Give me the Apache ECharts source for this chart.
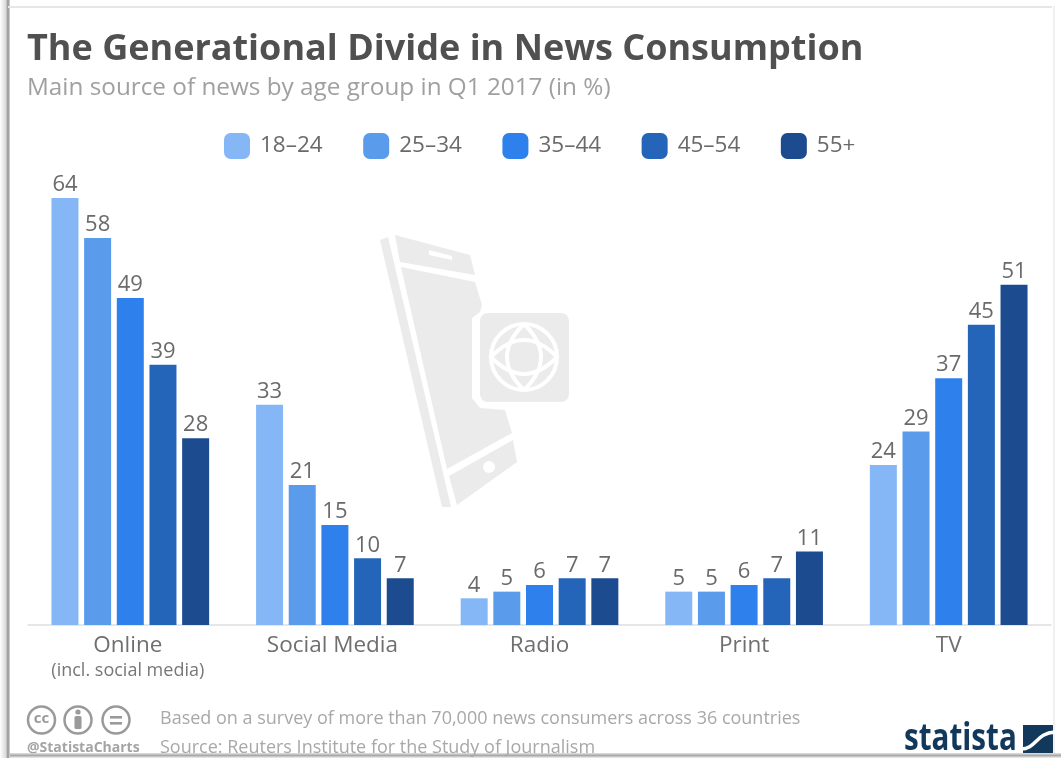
<!DOCTYPE html>
<html><head><meta charset="utf-8">
<style>html,body{margin:0;padding:0;background:#fff}#c{width:1061px;height:758px;filter:blur(0.5px)}</style>
<script src="https://cdn.jsdelivr.net/npm/echarts@6/dist/echarts.min.js"></script>
</head><body><div id="c"></div>
<script>
const categories = ['Online\n{sub|(incl. social media)}', 'Social Media', 'Radio', 'Print', 'TV'];
const ages = ['18–24', '25–34', '35–44', '45–54', '55+'];
const colors = ['#85b7f6', '#5a9bec', '#2e81ec', '#2565b9', '#1c4b8f'];
const v1824 = [64, 33, 4, 5, 24];
const v2534 = [58, 21, 5, 5, 29];
const v3544 = [49, 15, 6, 6, 37];
const v4554 = [39, 10, 7, 7, 45];
const v55 = [28, 7, 7, 11, 51];
const values = [v1824, v2534, v3544, v4554, v55];
const titleText = 'The Generational Divide in News Consumption';
const subtitleText = 'Main source of news by age group in Q1 2017 (in %)';
const note1 = 'Based on a survey of more than 70,000 news consumers across 36 countries';
const note2 = 'Source: Reuters Institute for the Study of Journalism';

const F = '"Open Sans"';
const wm = '#ebebeb';
const gray = '#9a9a9a';
const navy = '#12395b';
const txt = (x, y, text, size, fill, extra) => ({type:'text', x, y, silent:true, style:Object.assign({text, fontFamily:F, fontSize:size, fill, textVerticalAlign:'middle'}, extra||{})});
const poly = (points, fill) => ({type:'polygon', silent:true, shape:{points}, style:{fill}});
const ring = (cx, cy, r, lw, stroke) => ({type:'circle', silent:true, shape:{cx, cy, r}, style:{fill:'none', stroke, lineWidth:lw}});
const rr = (x,y,width,height,r,fill) => ({type:'rect', silent:true, shape:{x,y,width,height,r}, style:{fill}});
const bez = (x1,y1,cpx1,cpy1,x2,y2,stroke,lineWidth) => ({type:'bezierCurve', silent:true, shape:{x1,y1,cpx1,cpy1,x2,y2}, style:{fill:'none', stroke, lineWidth}});

const graphics = [
  // watermark: phone
  poly([[380,240],[388,237],[451,507],[442,507]], wm),
  poly([[395,235],[470,255],[475,275],[400,262]], wm),
  poly([[401,267],[475,282],[482,305],[480,312],[472,318],[472,398],[480,408],[505,410],[512,433],[447,469]], wm),
  poly([[449,476],[513,440],[517,462],[457,505]], wm),
  poly([[429,250],[452,256],[452,260],[429,255]], '#fff'),
  {type:'circle', silent:true, shape:{cx:489,cy:467,r:6}, style:{fill:'#fff'}},
  rr(480,313,89,89,8,wm),
  ring(524,357,33,4,'#fff'),
  bez(524,324,558,357,524,390,'#fff',4),
  bez(524,324,490,357,524,390,'#fff',4),
  bez(491,357,524,323,557,357,'#fff',4),
  bez(491,357,524,391,557,357,'#fff',4),
  // page frame
  {type:'rect', silent:true, shape:{x:0,y:0,width:10,height:758}, style:{fill:{type:'linear',x:0,y:0,x2:1,y2:0,colorStops:[{offset:0,color:'#ffffff'},{offset:0.6,color:'#d8d8d8'},{offset:0.8,color:'#8f8f8f'},{offset:1,color:'#dddddd'}]}}},
  {type:'rect', silent:true, shape:{x:8,y:6,width:1044,height:2}, style:{fill:'#e6e6e6'}},
  {type:'rect', silent:true, shape:{x:1053,y:6,width:2,height:748}, style:{fill:'#f0f0f0'}},
  {type:'rect', silent:true, shape:{x:10,y:753,width:1051,height:5}, style:{fill:{type:'linear',x:0,y:0,x2:0,y2:1,colorStops:[{offset:0,color:'#e4e4e4'},{offset:0.5,color:'#a9a9a9'},{offset:1,color:'#f2f2f2'}]}}},
  // headings
  txt(27, 50, titleText, 36, '#505050', {fontWeight:700}),
  txt(27, 88, subtitleText, 24.3, '#a0a0a0'),
  // licence icons
  ring(41.5,720,13.5,2.5,gray), ring(78,720,13.5,2.5,gray), ring(116,720,13.5,2.5,gray),
  txt(41.5,719,'cc',15,gray,{fontWeight:700,textAlign:'center'}),
  {type:'circle', silent:true, shape:{cx:78,cy:712,r:2.6}, style:{fill:gray}},
  rr(74.5,716,7,13,1.5,gray),
  rr(110,716,12,2.6,0,gray), rr(110,722,12,2.6,0,gray),
  txt(27,748,'@StatistaCharts',14,'#a4a4a4',{fontWeight:700}),
  txt(160,719,note1,18,'#a8a8a8'),
  txt(160,748,note2,18,'#a8a8a8'),
  // statista logo
  Object.assign(txt(904,739,'statista',37,navy,{fontWeight:700}), {scaleX:0.8, originX:0, originY:0}),
  rr(1023,725,30,28,0,navy),
  {type:'bezierCurve', silent:true, shape:{x1:1021,y1:749,cpx1:1036,cpy1:749,cpx2:1036,cpy2:733,x2:1055,y2:732}, style:{fill:'none',stroke:'#fff',lineWidth:3.5}},
];

const series = ages.map((name, i) => ({
  name, type:'bar', barWidth:27, barGap:'21%', data:values[i],
  itemStyle:{color:colors[i]},
  label:{show:true, position:'top', distance:2, color:'#6a6a6a', fontFamily:F, fontSize:22}
}));

const chart = echarts.init(document.getElementById('c'), null, {renderer:'canvas'});
chart.setOption({
  animation:false,
  backgroundColor:'#fff',
  legend:{left:219, top:128, itemWidth:26, itemHeight:26, itemGap:40.5, icon:'roundRect', selectedMode:false, data:ages,
    textStyle:{color:'#6a6a6a', fontFamily:F, fontSize:22.5, padding:[3,0,0,5]}},
  grid:{left:28, width:1023, top:158, height:467, containLabel:false},
  xAxis:{type:'category',
    data:categories.map((value, i) => i < 2 ? {value, textStyle:{padding:[0,5,0,0]}} : value),
    axisLine:{show:true, lineStyle:{color:'#dedede', width:1.5}}, axisTick:{show:false},
    axisLabel:{interval:0, margin:6, color:'#6f6f6f', fontFamily:F, fontSize:22.5, lineHeight:30,
      rich:{sub:{fontFamily:F, fontSize:18, color:'#777', lineHeight:20}}}},
  yAxis:{type:'value', min:0, max:70, show:false, splitLine:{show:false}},
  series,
  graphic:{elements:graphics.map(g=>Object.assign({z:-1},g))}
});
</script></body></html>
